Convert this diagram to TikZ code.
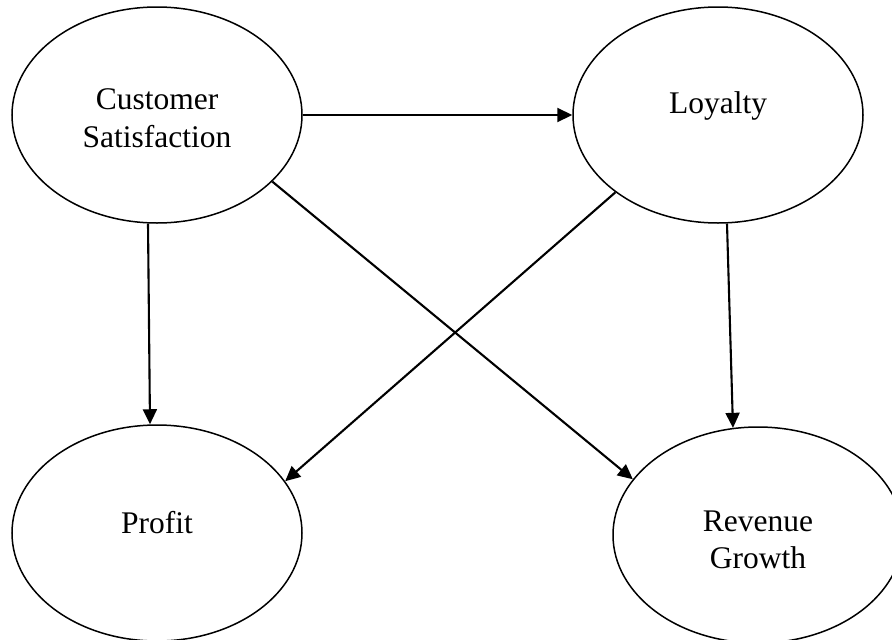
\documentclass[tikz,border=0pt]{standalone}
\usepackage{fontspec}
\setmainfont{Liberation Serif}
\usetikzlibrary{shapes.geometric,arrows.meta}
\tikzset{
  bubble/.style={ellipse, draw=black, line width=1.5pt, minimum width=290pt, minimum height=216pt, inner sep=0pt},
  lbl/.style={font=\fontsize{31.5}{37.5}\selectfont, align=center, inner sep=0pt},
  link/.style={line width=2.1pt, -{Triangle[length=15pt,width=14pt]}}
}
\begin{document}
\begin{tikzpicture}[x=1pt,y=-1pt]
\useasboundingbox (0,0) rectangle (892,640);
\fill[white] (0,0) rectangle (892,640);
\node[bubble] (cs) at (157,115) {};
\node[bubble] (loy) at (718,115) {};
\node[bubble] (pro) at (157,533) {};
\node[bubble] (rev) at (758,535) {};
\node[lbl] (cst) at (157,118) {Customer\\Satisfaction};
\node[lbl, anchor=base] (loyt) at (718,113) {Loyalty};
\node[lbl, anchor=base] (prot) at (157,533) {Profit};
\node[lbl] (revt) at (758,540) {Revenue\\Growth};
\draw[link] (cs.east) -- (loy.west);
\draw[link] ([xshift=-9pt]cs.south) -- ([xshift=-7pt]pro.north);
\draw[link] (cs.-30) -- (rev.156);
\draw[link] (loy.-143) -- (pro.22);
\draw[link] ([xshift=9pt]loy.south) -- ([xshift=-25pt,yshift=-1.6pt]rev.north);
\end{tikzpicture}
\end{document}
